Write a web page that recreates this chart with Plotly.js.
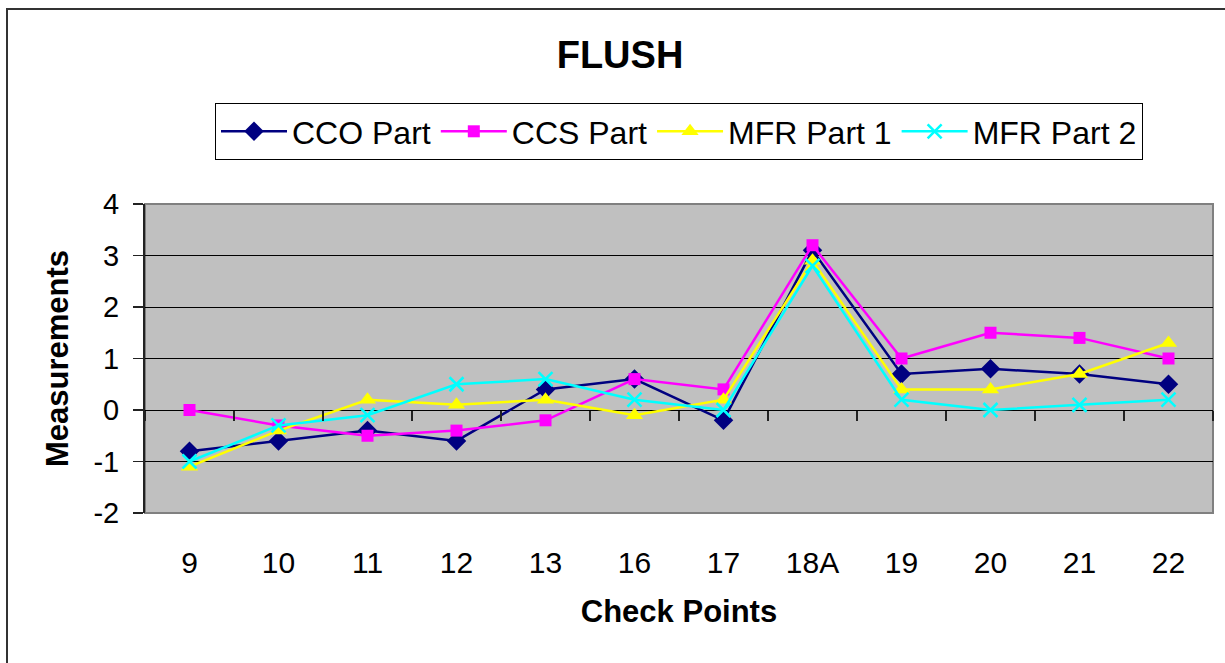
<!DOCTYPE html>
<html>
<head>
<meta charset="utf-8">
<script src="https://cdn.plot.ly/plotly-3.0.1.min.js"></script>
<style>
  html, body { margin: 0; padding: 0; width: 1225px; height: 663px; overflow: hidden; background: #fff; }
  #chart { position: absolute; left: 0; top: 0; width: 1225px; height: 663px; }
  #frame { position: absolute; left: 6px; top: 8px; width: 1400px; height: 800px; border: 2px solid #333; pointer-events: none; }
</style>
</head>
<body>
<div id="chart"></div>
<div id="frame"></div>
<script>
const categories = ['9', '10', '11', '12', '13', '16', '17', '18A', '19', '20', '21', '22'];
const ccoPart  = [-0.8, -0.6, -0.4, -0.6, 0.4, 0.6, -0.2, 3.1, 0.7, 0.8, 0.7, 0.5];
const ccsPart  = [0.0, -0.3, -0.5, -0.4, -0.2, 0.6, 0.4, 3.2, 1.0, 1.5, 1.4, 1.0];
const mfrPart1 = [-1.1, -0.4, 0.2, 0.1, 0.2, -0.1, 0.2, 2.9, 0.4, 0.4, 0.7, 1.3];
const mfrPart2 = [-1.0, -0.3, -0.1, 0.5, 0.6, 0.2, 0.0, 2.8, 0.2, 0.0, 0.1, 0.2];
const seriesNames = ['CCO Part', 'CCS Part', 'MFR Part 1', 'MFR Part 2'];
const yTicks = [-2, -1, 0, 1, 2, 3, 4];

const FONT = 'Liberation Sans, Arial, sans-serif';

const styles = [
  { color: '#000080', symbol: 'diamond', size: 15 },
  { color: '#FF00FF', symbol: 'square', size: 12 },
  { color: '#FFFF00', symbol: 'triangle-up', size: 15 },
  { color: '#00FFFF', symbol: 'x-thin-open', size: 14 }
];
const values = [ccoPart, ccsPart, mfrPart1, mfrPart2];

const traces = values.map((v, i) => ({
  type: 'scatter',
  mode: 'lines+markers',
  name: seriesNames[i],
  x: categories,
  y: v,
  line: { color: styles[i].color, width: 2.5 },
  marker: {
    color: styles[i].color,
    symbol: styles[i].symbol,
    size: styles[i].size,
    line: { color: styles[i].color, width: i === 3 ? 2.5 : 0 }
  },
  cliponaxis: false
}));

// invisible helper trace so the zero-line tick axis is drawn
traces.push({
  type: 'scatter', mode: 'none', x: categories.map((_, i) => i), y: categories.map(() => 0),
  xaxis: 'x2', yaxis: 'y', showlegend: false, hoverinfo: 'skip'
});

const yMin = yTicks[0], yMax = yTicks[yTicks.length - 1];

const layout = {
  width: 1225, height: 663,
  margin: { l: 145, r: 12, t: 204, b: 150 },
  paper_bgcolor: '#ffffff',
  plot_bgcolor: '#C0C0C0',
  font: { family: FONT, color: '#000' },
  showlegend: true,
  title: {
    text: '<b>FLUSH</b>',
    font: { family: FONT, size: 38, color: '#000' },
    xref: 'container', x: 620 / 1225, xanchor: 'center',
    yref: 'container', y: 1 - 55 / 663, yanchor: 'middle'
  },
  legend: {
    orientation: 'h',
    xref: 'container', x: 215 / 1225, xanchor: 'left',
    yref: 'container', y: 1 - 103 / 663, yanchor: 'top',
    bordercolor: '#000', borderwidth: 1, bgcolor: '#fff',
    font: { family: FONT, size: 32, color: '#000' },
    itemwidth: 66,
    tracegroupgap: 0
  },
  xaxis: {
    type: 'category',
    categoryarray: categories,
    range: [-0.5, categories.length - 0.5],
    showgrid: false, zeroline: false,
    showline: false,
    ticks: '',
    ticklabelstandoff: 29,
    tickfont: { family: FONT, size: 30, color: '#000' },
    title: { text: '<b>Check Points</b>', font: { family: FONT, size: 31, color: '#000' }, standoff: 22 },
    automargin: false,
    fixedrange: true
  },
  xaxis2: {
    type: 'linear',
    overlaying: 'x',
    anchor: 'free',
    position: (0 - yMin) / (yMax - yMin),
    range: [-0.5, categories.length - 0.5],
    tickmode: 'array',
    tickvals: categories.map((_, i) => i - 0.5).concat([categories.length - 0.5]),
    ticks: 'outside', ticklen: 10, tickwidth: 1.5, tickcolor: '#222',
    showticklabels: false, showgrid: false, zeroline: false, showline: false,
    fixedrange: true
  },
  yaxis: {
    range: [yMin, yMax],
    tickvals: yTicks,
    ticktext: yTicks.map(String),
    showgrid: true, gridcolor: '#000', gridwidth: 1,
    zeroline: true, zerolinecolor: '#000', zerolinewidth: 1,
    showline: true, linecolor: '#222', linewidth: 2,
    ticks: 'outside', ticklen: 10, tickwidth: 1.5, tickcolor: '#222',
    ticklabelstandoff: 8,
    tickfont: { family: FONT, size: 29, color: '#000' },
    title: { text: '<b>Measurements</b>', font: { family: FONT, size: 31, color: '#000' }, standoff: 16 },
    automargin: false,
    fixedrange: true
  },
  shapes: [{
    type: 'rect', xref: 'paper', yref: 'paper', x0: 0, x1: 1, y0: 0, y1: 1,
    line: { color: '#808080', width: 2 }, layer: 'below'
  }]
};

Plotly.newPlot('chart', traces, layout, { staticPlot: true, displayModeBar: false });
</script>
</body>
</html>
